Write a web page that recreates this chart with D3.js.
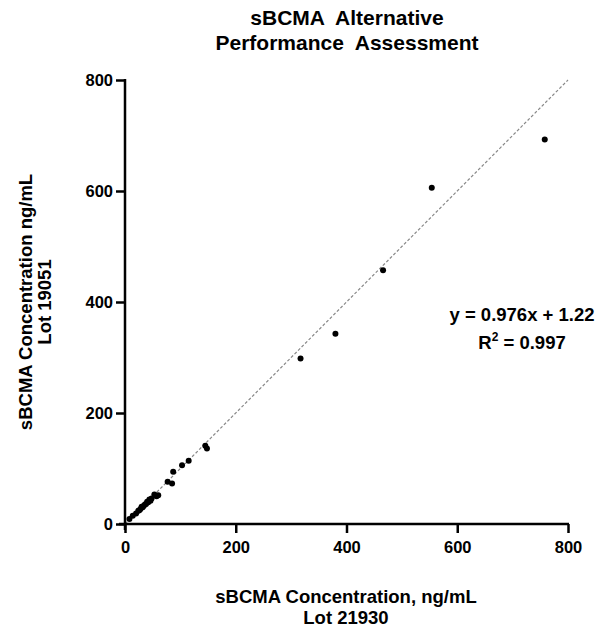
<!DOCTYPE html>
<html>
<head>
<meta charset="utf-8">
<script src="https://cdn.jsdelivr.net/npm/d3@7"></script>
<style>
  body { margin: 0; background: #fff; }
  text { font-family: "Liberation Sans", Arial, sans-serif; font-weight: bold; fill: #000; }
</style>
</head>
<body>
<div id="chart"></div>
<script>
// values (lot 21930 vs lot 19051, ng/mL)
var lot21930 = [758, 554, 466, 380, 317, 148, 145, 115, 103, 87, 85, 77, 60, 57, 53, 48, 46, 44, 42, 40, 38, 36, 34, 32, 30, 28, 26, 24, 20, 14, 8];
var lot19051 = [693, 606, 457, 343, 298, 136, 141, 114, 106, 94, 73, 76, 52, 50, 53, 46, 42, 44, 39, 40, 36, 35, 33, 30, 31, 27, 25, 24, 19, 15, 9];
var tickValues = [0, 200, 400, 600, 800];
var titleLines = ["sBCMA  Alternative", "Performance  Assessment"];
var xLabelLines = ["sBCMA Concentration, ng/mL", "Lot 21930"];
var yLabelLines = ["sBCMA Concentration ng/mL", "Lot 19051"];
var slope = 0.976, intercept = 1.22, r2 = 0.997;

var width = 599, height = 629;
var margin = { top: 80, right: 31, bottom: 105, left: 125 };

var svg = d3.select("#chart").append("svg")
  .attr("width", width)
  .attr("height", height);

var x = d3.scaleLinear().domain([0, 800]).range([margin.left, width - margin.right]);
var y = d3.scaleLinear().domain([0, 800]).range([height - margin.bottom, margin.top]);

// title
svg.append("text")
  .attr("text-anchor", "middle")
  .style("font-size", "21px")
  .style("white-space", "pre")
  .selectAll("tspan")
  .data(titleLines)
  .enter().append("tspan")
  .attr("x", 347)
  .attr("y", function(d, i) { return 25 + i * 25; })
  .text(function(d) { return d; });

// identity line
svg.append("line")
  .attr("x1", x(0)).attr("y1", y(0))
  .attr("x2", x(800)).attr("y2", y(800))
  .attr("stroke", "#888")
  .attr("stroke-width", 1.2)
  .attr("stroke-dasharray", "3,2");

// axes
var xAxis = svg.append("g")
  .attr("transform", "translate(0," + y(0) + ")")
  .call(d3.axisBottom(x).tickValues(tickValues).tickSize(9).tickPadding(8));
var yAxis = svg.append("g")
  .attr("transform", "translate(" + x(0) + ",0)")
  .call(d3.axisLeft(y).tickValues(tickValues).tickSize(9).tickPadding(3));

[xAxis, yAxis].forEach(function(g) {
  g.select(".domain").remove();
  g.selectAll(".tick line").attr("stroke", "#000").attr("stroke-width", 2.5);
  g.selectAll(".tick text").style("font-size", "16.5px").style("font-family", "Liberation Sans, Arial, sans-serif").style("font-weight", "bold");
});
svg.append("line")
  .attr("x1", x(0) - 6).attr("x2", x(800) + 1)
  .attr("y1", y(0)).attr("y2", y(0))
  .attr("stroke", "#000").attr("stroke-width", 2.5);
svg.append("line")
  .attr("x1", x(0)).attr("x2", x(0))
  .attr("y1", y(0) + 6).attr("y2", y(800) - 1)
  .attr("stroke", "#000").attr("stroke-width", 2.5);

// points
svg.append("g").selectAll("circle")
  .data(lot21930)
  .enter().append("circle")
  .attr("cx", function(d) { return x(d); })
  .attr("cy", function(d, i) { return y(lot19051[i]); })
  .attr("r", 3)
  .attr("fill", "#000");

// regression text
svg.append("text")
  .attr("x", 522).attr("y", 321)
  .attr("text-anchor", "middle")
  .style("font-size", "18.5px")
  .text("y = " + slope + "x + " + intercept);
var r = svg.append("text")
  .attr("x", 522).attr("y", 349)
  .attr("text-anchor", "middle")
  .style("font-size", "18.5px");
r.append("tspan").text("R");
r.append("tspan").attr("dy", -8).style("font-size", "12px").text("2");
r.append("tspan").attr("dy", 8).text(" = " + r2);

// x axis label
svg.append("text")
  .attr("text-anchor", "middle")
  .style("font-size", "18.5px")
  .selectAll("tspan")
  .data(xLabelLines)
  .enter().append("tspan")
  .attr("x", 346)
  .attr("y", function(d, i) { return 603 + i * 21; })
  .text(function(d) { return d; });

// y axis label
svg.append("text")
  .attr("transform", "translate(32,302) rotate(-90)")
  .attr("text-anchor", "middle")
  .style("font-size", "18.5px")
  .selectAll("tspan")
  .data(yLabelLines)
  .enter().append("tspan")
  .attr("x", 0)
  .attr("y", function(d, i) { return i * 19; })
  .text(function(d) { return d; });
</script>
</body>
</html>
